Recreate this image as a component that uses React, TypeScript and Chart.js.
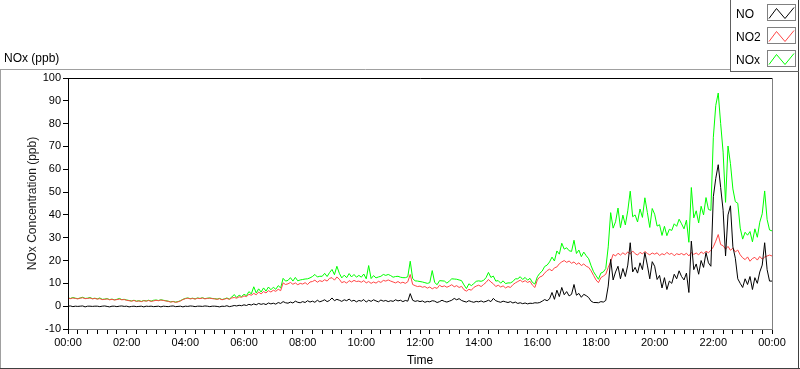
import { useEffect, useRef } from "react";
import { Chart, registerables } from "chart.js";

Chart.register(...registerables);

// Sampling: one value every 5 minutes from 00:00 to 24:00
const sampleStepMinutes = 5;

// NO (ppb)
const noValues = [
  0, 0.1, -0.2, 0, -0.1, 0, 0.1, -0.3, 0, 0, -0.1, 0,
  0, -0.2, 0, 0.1, -0.1, -0.3, 0, 0, -0.2, 0, 0.1, -0.1,
  0, -0.3, -0.1, 0, -0.2, -0.1, 0, -0.3, 0, -0.1, 0, -0.2,
  -0.1, 0, -0.3, 0, -0.1, -0.2, 0, 0.1, -0.2, -0.1, 0, -0.3,
  0, -0.1, 0.1, 0, -0.2, 0, 0, -0.1, 0.1, 0, -0.2, 0,
  0, -0.1, -0.3, 0, -0.1, 0.2, -0.2, 0, 0.3, 0.1, 0.4, 0.2,
  0.6, 0.3, 0.8, 0.5, 1.0, 0.6, 1.2, 0.8, 1.1, 0.7, 1.4, 1.0,
  1.3, 0.9, 1.6, 1.2, 2.0, 1.5, 1.3, 1.8, 1.4, 2.2, 1.7, 1.5,
  2.0, 1.6, 2.4, 1.8, 2.2, 1.7, 2.6, 1.9, 2.3, 2.8, 2.0, 2.5,
  3.6, 2.4, 3.0, 2.6, 2.1, 2.8, 2.4, 3.1, 2.2, 2.6, 1.9, 2.5,
  2.2, 2.9, 1.8, 2.6, 2.1, 2.8, 2.3, 1.9, 2.7, 2.2, 2.5, 2.0,
  2.4, 2.1, 2.8, 2.3, 2.6, 2.0, 2.5, 2.2, 5.5, 2.6, 2.1, 2.4,
  2.0, 2.3, 1.7, 2.1, 1.9, 2.4, 2.2, 1.6, 2.0, 2.6, 2.1, 1.8,
  2.2, 2.6, 3.4, 2.8, 3.3, 2.5, 2.1, 1.8, 2.4, 2.0, 1.7, 2.1,
  1.9, 2.3, 1.8, 2.1, 2.6, 2.0, 3.4, 2.4, 2.0, 1.7, 2.2, 1.9,
  1.6, 2.0, 1.4, 1.8, 1.2, 1.5, 1.1, 1.4, 1.0, 1.3, 1.2, 1.5,
  1.4, 1.6, 2.2, 2.9, 2.4, 3.2, 6.0, 3.0, 7.0, 4.2, 8.2, 5.0,
  6.4, 4.5, 5.2, 9.5, 4.8, 5.6, 3.9, 5.2, 4.6, 3.8, 2.2, 1.6,
  1.6, 1.5, 2.0, 1.8, 2.5, 8.8, 20.5, 11.5, 15.0, 17.5, 12.0, 16.5,
  13.0, 18.0, 27.8, 15.0, 17.0, 14.5, 19.0, 16.0, 23.5, 18.0, 12.0, 19.5,
  17.5, 11.7, 13.5, 8.0, 12.5, 7.3, 11.0, 10.0, 14.0, 12.0, 15.5, 13.0,
  11.5, 14.5, 6.0, 28.5, 16.0, 18.5, 14.0, 20.0, 17.0, 23.5, 19.0, 17.5,
  48.0, 56.0, 62.0, 52.0, 42.0, 22.0, 40.0, 44.0, 26.0, 21.0, 12.0, 10.0,
  8.2, 12.0, 9.5, 13.0, 7.3, 12.5, 10.0, 15.0, 18.0, 27.8, 16.0, 11.0,
  11.0,
];

// NO2 (ppb)
const no2Values = [
  3.5, 3.3, 3.6, 3.4, 3.2, 3.5, 3.7, 3.3, 3.4, 3.6, 3.2, 3.4,
  3.1, 3.3, 2.9, 3.0, 3.2, 2.8, 3.0, 2.7, 2.9, 3.1, 2.8, 2.9,
  2.6, 2.4, 2.2, 2.5, 2.1, 2.3, 2.0, 2.4, 2.2, 2.5, 2.1, 2.3,
  2.6, 2.4, 2.7, 2.5, 2.3, 2.1, 1.8, 2.0, 1.7, 1.9, 2.3, 2.9,
  3.3, 3.5, 3.2, 3.4, 3.1, 3.5, 3.3, 3.6, 3.2, 3.4, 3.5, 3.3,
  3.2, 3.0, 3.3, 2.8, 3.1, 3.4, 3.0, 3.6, 3.8, 3.5, 4.1, 3.9,
  4.5, 4.2, 5.2, 4.8, 5.6, 5.0, 6.2, 5.4, 6.4, 5.8, 6.8, 6.2,
  7.0, 6.5, 7.4, 6.8, 10.2, 9.5, 9.8, 10.4, 9.6, 10.2, 9.4, 10.0,
  9.7, 10.3, 9.5, 10.6, 10.8, 11.4, 10.5, 11.2, 10.8, 11.6, 11.0, 12.2,
  12.5, 11.4, 12.8, 11.8, 10.3, 10.8, 10.1, 11.2, 10.6, 11.3, 10.8, 11.0,
  10.5, 11.2, 10.2, 10.8, 10.0, 10.6, 10.1, 10.9, 10.4, 11.3, 11.0, 11.5,
  11.0, 10.6, 10.2, 10.8, 10.1, 10.5, 10.0, 10.7, 13.9, 9.5, 9.0, 8.6,
  8.8, 8.3, 8.6, 7.9, 8.4, 7.6, 8.2, 7.8, 9.2, 8.5, 8.9, 8.3,
  8.8, 9.4, 8.5, 9.0, 8.2, 8.7, 7.2, 6.6, 7.4, 7.0, 8.2, 8.8,
  9.2, 8.6, 9.5, 10.4, 11.7, 10.6, 9.8, 8.6, 9.2, 8.4, 8.9, 8.0,
  8.6, 8.2, 9.4, 10.2, 10.8, 11.4, 10.6, 11.2, 10.4, 10.9, 9.2, 8.2,
  11.5, 12.8, 13.2, 14.5, 15.6, 16.2, 15.5, 16.8, 17.2, 18.6, 19.4, 20.0,
  19.2, 19.8, 18.8, 19.4, 18.3, 19.0, 17.8, 18.5, 17.5, 17.0, 15.5, 13.5,
  11.5, 10.3, 12.5, 13.2, 14.0, 17.0, 19.5, 22.7, 22.0, 23.2, 22.4, 23.4,
  22.6, 23.8, 22.8, 24.2, 23.0, 22.4, 23.6, 22.9, 24.0, 23.1, 22.5, 23.3,
  22.8, 23.4, 22.2, 23.0, 22.5, 23.6, 22.7, 23.2, 22.1, 23.0, 22.6, 23.1,
  22.4, 23.2, 22.0, 23.5, 22.7, 23.3, 22.5, 23.8, 23.0, 24.1, 23.4, 24.5,
  26.0, 28.5, 31.4, 27.0, 26.5, 25.0, 26.2, 24.5, 25.4, 23.8, 24.6, 22.5,
  21.2, 20.4, 21.6, 19.7, 20.9, 21.4, 20.2, 21.8, 20.6, 21.5, 22.0, 22.4,
  22.0,
];

// NOx (ppb)
const noxValues = [
  3.6, 3.4, 3.8, 3.5, 3.3, 3.6, 3.9, 3.4, 3.5, 3.8, 3.3, 3.5,
  3.2, 3.6, 3.0, 3.1, 3.3, 2.9, 3.1, 2.8, 3.0, 3.4, 2.9, 3.0,
  2.7, 2.5, 2.3, 2.6, 2.2, 2.4, 2.1, 2.5, 2.3, 2.6, 2.2, 2.6,
  2.7, 2.5, 2.8, 2.6, 2.4, 2.2, 1.9, 2.1, 1.8, 2.0, 2.4, 3.0,
  3.4, 3.6, 3.3, 3.5, 3.2, 3.6, 3.4, 3.7, 3.3, 3.5, 3.6, 3.4,
  3.3, 3.1, 3.4, 2.9, 3.2, 3.6, 3.1, 4.0, 5.1, 3.8, 4.8, 4.2,
  5.2, 4.6, 6.4, 5.4, 8.5, 5.8, 7.6, 6.2, 8.0, 6.6, 8.4, 7.2,
  8.3, 7.4, 9.0, 8.0, 12.2, 11.0, 11.3, 12.5, 11.0, 12.6, 11.1, 11.5,
  11.7, 11.9, 12.0, 12.4, 13.0, 13.9, 12.8, 13.1, 13.1, 14.4, 13.0, 14.7,
  16.1, 13.8, 17.5, 14.4, 12.4, 13.6, 12.5, 14.3, 12.8, 13.9, 12.7, 13.5,
  12.7, 14.1, 12.0, 17.8, 12.1, 13.4, 12.4, 12.8, 13.1, 13.9, 13.5, 13.9,
  13.4, 12.7, 13.0, 13.1, 12.7, 12.5, 12.5, 12.9, 19.7, 12.1, 11.1, 11.0,
  10.8, 10.6, 10.3, 10.0, 10.3, 15.6, 10.4, 9.4, 11.2, 11.1, 11.0, 10.1,
  11.0, 12.0, 11.9, 11.8, 11.5, 11.2, 9.3, 7.7, 9.8, 9.0, 9.9, 10.9,
  11.1, 10.9, 11.3, 12.5, 14.8, 12.6, 13.2, 11.0, 11.2, 10.1, 11.1, 9.9,
  10.2, 10.2, 10.8, 12.0, 12.0, 12.9, 11.7, 12.6, 11.4, 12.2, 10.4, 9.7,
  12.9, 14.4, 15.4, 17.4, 18.0, 19.4, 21.5, 19.8, 24.2, 22.8, 27.6, 25.0,
  25.6, 24.3, 24.0, 28.9, 23.1, 24.6, 21.7, 23.7, 22.1, 20.8, 17.7, 15.1,
  13.4, 11.8, 14.5, 15.0, 16.5, 26.0, 41.0, 34.2, 37.0, 43.0, 34.4, 39.9,
  35.6, 41.8, 50.4, 39.2, 40.0, 36.9, 42.6, 38.9, 47.5, 41.1, 34.5, 42.8,
  40.3, 35.1, 35.7, 31.0, 35.0, 30.9, 33.7, 33.2, 36.1, 35.0, 38.1, 36.1,
  33.9, 37.7, 28.0, 52.0, 38.7, 41.8, 36.5, 43.8, 40.0, 47.6, 42.4, 42.0,
  74.0, 88.0, 93.4, 80.0, 67.5, 45.5, 70.2, 62.5, 51.4, 45.8, 45.1, 34.2,
  29.4, 32.4, 31.1, 32.7, 28.2, 33.9, 30.2, 36.8, 40.5, 50.5, 38.0, 33.4,
  33.0,
];

const xTickLabels = [
  "00:00", "02:00", "04:00", "06:00", "08:00", "10:00", "12:00",
  "14:00", "16:00", "18:00", "20:00", "22:00", "00:00",
];
const xMinorStepMinutes = 20;
const xMajorStepMinutes = 120;
const yMin = -10;
const yMax = 100;
const yStep = 10;

const seriesNames = ["NO", "NO2", "NOx"];
const seriesColors = ["#000000", "#ff4646", "#00ff00"];
const chartTitle = "NOx (ppb)";
const yAxisTitle = "NOx Concentration (ppb)";
const xAxisTitle = "Time";

const FONT = "'Liberation Sans', Arial, sans-serif";

function toPoints(values: number[]) {
  return values.map((v, i) => ({ x: i * sampleStepMinutes, y: v }));
}

const framePlugin = {
  id: "labviewFrame",
  beforeDraw(chart: any) {
    const ctx = chart.ctx;
    ctx.save();
    ctx.fillStyle = "#ffffff";
    ctx.fillRect(0, 0, chart.width, chart.height);
    ctx.restore();
  },
  afterDraw(chart: any) {
    const ctx: CanvasRenderingContext2D = chart.ctx;
    const a = chart.chartArea;
    const line = (c: string, x1: number, y1: number, x2: number, y2: number) => {
      ctx.strokeStyle = c;
      ctx.beginPath();
      ctx.moveTo(x1, y1);
      ctx.lineTo(x2, y2);
      ctx.stroke();
    };
    ctx.save();
    ctx.lineWidth = 1;
    // outer frame
    line("#a0a0a0", 0, 69.5, 731, 69.5);
    line("#a0a0a0", 0.5, 69, 0.5, 369);
    line("#404040", 0, 368.5, 800, 368.5);
    line("#404040", 798.5, 0, 798.5, 369);
    // legend box
    line("#606060", 730.5, 0, 730.5, 72);
    line("#606060", 730, 71.5, 799, 71.5);
    // plot border
    line("#000000", a.left + 0.5, a.top + 0.5, a.right + 1, a.top + 0.5);
    line("#000000", a.left + 0.5, a.top, a.left + 0.5, a.bottom + 1);
    line("#808080", a.right + 0.5, a.top, a.right + 0.5, a.bottom + 1);
    line("#808080", a.left + 1, a.bottom + 0.5, a.right + 1, a.bottom + 0.5);

    // chart title
    ctx.fillStyle = "#000000";
    ctx.font = `12px ${FONT}`;
    ctx.textBaseline = "alphabetic";
    ctx.textAlign = "left";
    ctx.fillText(chartTitle, 4, 62);

    // legend
    const rows = [4, 27, 50];
    seriesNames.forEach((name, i) => {
      const top = rows[i];
      ctx.fillStyle = "#000000";
      ctx.font = `12px ${FONT}`;
      ctx.fillText(name, 736, top + 13.5);
      const bx = 767.5;
      const by = top + 0.5;
      ctx.strokeStyle = "#808080";
      ctx.strokeRect(bx, by, 28, 16);
      ctx.strokeStyle = seriesColors[i];
      ctx.beginPath();
      ctx.moveTo(bx + 1.5, by + 14);
      ctx.lineTo(bx + 9, by + 4);
      ctx.lineTo(bx + 17.5, by + 14);
      ctx.lineTo(bx + 26.5, by + 3);
      ctx.stroke();
    });
    ctx.restore();
  },
};

export default function App() {
  const canvasRef = useRef<HTMLCanvasElement | null>(null);

  useEffect(() => {
    document.body.style.margin = "0";
    const canvas = canvasRef.current;
    if (!canvas) return;
    Chart.defaults.font.family = FONT;
    const datasets = [noValues, no2Values, noxValues].map((vals, i) => ({
      label: seriesNames[i],
      data: toPoints(vals),
      borderColor: seriesColors[i],
      backgroundColor: seriesColors[i],
      borderWidth: 1,
      pointRadius: 0,
      tension: 0,
      fill: false,
    }));
    const chart = new Chart(canvas, {
      type: "line",
      data: { datasets },
      plugins: [framePlugin],
      options: {
        responsive: false,
        animation: false,
        events: [],
        layout: { padding: { left: 0, right: 28, top: 78, bottom: 0 } },
        plugins: {
          legend: { display: false },
          tooltip: { enabled: false },
          title: { display: false },
        },
        scales: {
          x: {
            type: "linear",
            position: "bottom",
            min: 0,
            max: 1440,
            afterFit: (s: any) => {
              s.height = 40;
            },
            border: { display: false },
            grid: {
              drawOnChartArea: false,
              drawTicks: true,
              tickLength: 5,
              color: "#000000",
            },
            ticks: {
              stepSize: xMinorStepMinutes,
              autoSkip: false,
              maxRotation: 0,
              minRotation: 0,
              padding: 2,
              color: "#000000",
              font: { size: 11, family: FONT },
              callback: (v: any) =>
                Number(v) % xMajorStepMinutes === 0
                  ? xTickLabels[Number(v) / xMajorStepMinutes]
                  : "",
            },
            title: {
              display: true,
              text: xAxisTitle,
              color: "#000000",
              font: { size: 12, family: FONT },
              padding: { top: 0, bottom: 1 },
            },
          },
          y: {
            type: "linear",
            min: yMin,
            max: yMax,
            afterFit: (s: any) => {
              s.width = 68;
            },
            border: { display: false },
            grid: {
              drawOnChartArea: false,
              drawTicks: true,
              tickLength: 5,
              color: "#000000",
            },
            ticks: {
              stepSize: yStep,
              padding: 2,
              color: "#000000",
              font: { size: 11, family: FONT },
            },
            title: {
              display: true,
              text: yAxisTitle,
              color: "#1a1a1a",
              font: { size: 12, family: FONT },
              padding: { top: 25, bottom: 0 },
            },
          },
        },
      },
    });
    return () => chart.destroy();
  }, []);

  return (
    <div style={{ width: 800, height: 369, position: "relative" }}>
      <canvas ref={canvasRef} width={800} height={369} style={{ display: "block" }} />
    </div>
  );
}
